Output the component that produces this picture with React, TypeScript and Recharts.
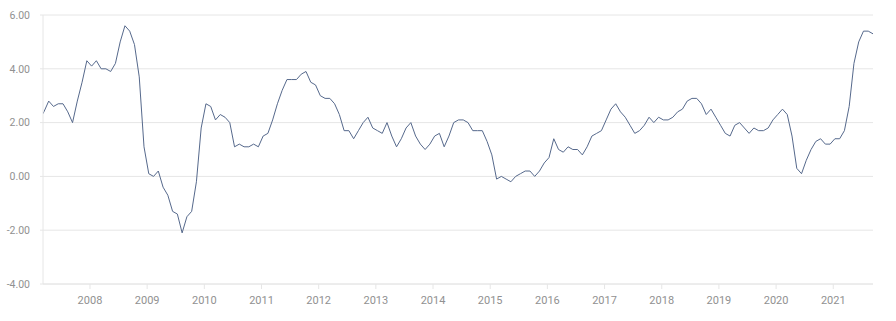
import { LineChart, Line, XAxis, YAxis, CartesianGrid } from "recharts";

// monthly year-over-year values, Jan 2007 .. Aug 2021
const y2007 = [2.1, 2.4, 2.8, 2.6, 2.7, 2.7, 2.4, 2.0, 2.8, 3.5, 4.3, 4.1];
const y2008 = [4.3, 4.0, 4.0, 3.9, 4.2, 5.0, 5.6, 5.4, 4.9, 3.7, 1.1, 0.1];
const y2009 = [0.0, 0.2, -0.4, -0.7, -1.3, -1.4, -2.1, -1.5, -1.3, -0.2, 1.8, 2.7];
const y2010 = [2.6, 2.1, 2.3, 2.2, 2.0, 1.1, 1.2, 1.1, 1.1, 1.2, 1.1, 1.5];
const y2011 = [1.6, 2.1, 2.7, 3.2, 3.6, 3.6, 3.6, 3.8, 3.9, 3.5, 3.4, 3.0];
const y2012 = [2.9, 2.9, 2.7, 2.3, 1.7, 1.7, 1.4, 1.7, 2.0, 2.2, 1.8, 1.7];
const y2013 = [1.6, 2.0, 1.5, 1.1, 1.4, 1.8, 2.0, 1.5, 1.2, 1.0, 1.2, 1.5];
const y2014 = [1.6, 1.1, 1.5, 2.0, 2.1, 2.1, 2.0, 1.7, 1.7, 1.7, 1.3, 0.8];
const y2015 = [-0.1, 0.0, -0.1, -0.2, 0.0, 0.1, 0.2, 0.2, 0.0, 0.2, 0.5, 0.7];
const y2016 = [1.4, 1.0, 0.9, 1.1, 1.0, 1.0, 0.8, 1.1, 1.5, 1.6, 1.7, 2.1];
const y2017 = [2.5, 2.7, 2.4, 2.2, 1.9, 1.6, 1.7, 1.9, 2.2, 2.0, 2.2, 2.1];
const y2018 = [2.1, 2.2, 2.4, 2.5, 2.8, 2.9, 2.9, 2.7, 2.3, 2.5, 2.2, 1.9];
const y2019 = [1.6, 1.5, 1.9, 2.0, 1.8, 1.6, 1.8, 1.7, 1.7, 1.8, 2.1, 2.3];
const y2020 = [2.5, 2.3, 1.5, 0.3, 0.1, 0.6, 1.0, 1.3, 1.4, 1.2, 1.2, 1.4];
const y2021 = [1.4, 1.7, 2.6, 4.2, 5.0, 5.4, 5.4, 5.3];

const yearLabels = ["2008", "2009", "2010", "2011", "2012", "2013", "2014", "2015", "2016", "2017", "2018", "2019", "2020", "2021"];
const yTicks = [-4, -2, 0, 2, 4, 6];

const values = [
  ...y2007, ...y2008, ...y2009, ...y2010, ...y2011, ...y2012, ...y2013, ...y2014,
  ...y2015, ...y2016, ...y2017, ...y2018, ...y2019, ...y2020, ...y2021,
];
const data = values.map((v, i) => ({ i, v }));

// year ticks sit a bit before each January point
const firstTick = 10.66;
const xTicks = yearLabels.map((_, k) => firstTick + 12 * k);

const gridColor = "#e6e6e6";
const labelColor = "#919191";

export default function App() {
  return (
    <div style={{ position: "absolute", left: 0, top: 0, width: 896, height: 321, background: "#fff" }}>
      <LineChart width={896} height={321} data={data} margin={{ top: 15, right: 23, bottom: 7, left: 0 }}>
        <CartesianGrid vertical={false} stroke={gridColor} />
        <XAxis
          type="number"
          dataKey="i"
          domain={[0.8, values.length - 1]}
          allowDataOverflow
          ticks={xTicks}
          interval={0}
          tickFormatter={(v) => yearLabels[Math.round((Number(v) - firstTick) / 12)] ?? ""}
          height={30}
          stroke={gridColor}
          tickSize={5}
          tickMargin={7}
          tick={{ fill: labelColor, fontSize: 11, fontFamily: "Roboto" }}
        />
        <YAxis
          type="number"
          domain={[-4, 6]}
          ticks={yTicks}
          interval={0}
          width={43}
          tickFormatter={(v) => Number(v).toFixed(2)}
          stroke={gridColor}
          tickSize={3}
          tickMargin={10}
          tick={{ fill: labelColor, fontSize: 10.5, fontFamily: "Roboto" }}
        />
        <Line type="linear" dataKey="v" stroke="#56698c" strokeWidth={1} dot={false} isAnimationActive={false} />
      </LineChart>
    </div>
  );
}
